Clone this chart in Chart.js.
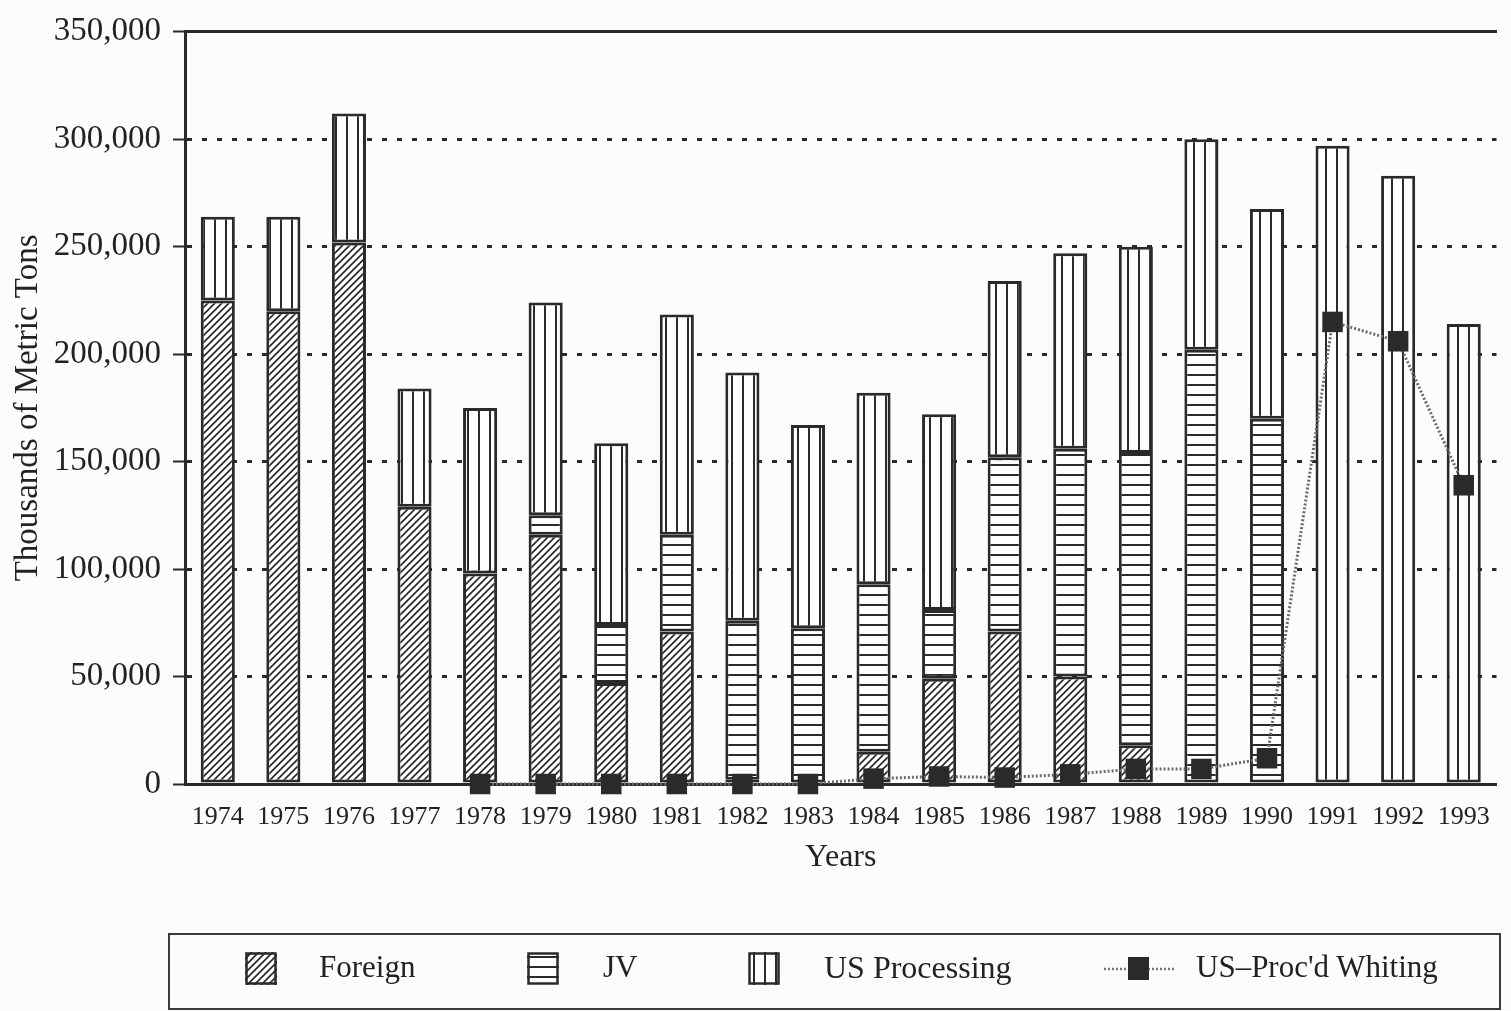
<!DOCTYPE html>
<html>
<head>
<meta charset="utf-8">
<title>Whiting catch 1974-1993</title>
<script src="https://cdn.jsdelivr.net/npm/chart.js@4.4.1/dist/chart.umd.min.js"></script>
<style>
  body { margin: 0; background: #fcfcfb; }
  #wrap { position: relative; width: 1511px; height: 1011px; }
  #legend {
    position: absolute; left: 168px; top: 933px; width: 1329px; height: 73px;
    border: 2px solid #3a3a3a; font-family: "Liberation Serif", serif;
    font-size: 31px; color: #222;
  }
  #legend canvas, #legend span { position: absolute; }
  #legend span { top: 14px; line-height: 36px; white-space: nowrap; }
</style>
</head>
<body>
<div id="wrap">
  <canvas id="catchChart" width="1511" height="1011"></canvas>
  <div id="legend">
    <canvas id="swForeign" width="32" height="33" style="left:75px;top:17px"></canvas>
    <span style="left:149px">Foreign</span>
    <canvas id="swJV" width="32" height="33" style="left:357px;top:17px"></canvas>
    <span style="left:433px">JV</span>
    <canvas id="swUS" width="32" height="33" style="left:578px;top:17px"></canvas>
    <span style="left:654px;font-size:32px">US Processing</span>
    <canvas id="swWhiting" width="72" height="33" style="left:934px;top:17px"></canvas>
    <span style="left:1026px">US–Proc'd Whiting</span>
  </div>
</div>
<script>
// ✅ Data (thousands of metric tons)
const years = ["1974", "1975", "1976", "1977", "1978", "1979", "1980", "1981", "1982", "1983",
  "1984", "1985", "1986", "1987", "1988", "1989", "1990", "1991", "1992", "1993"];
const foreign = [225000, 220000, 252000, 129000, 98000, 116000, 47000, 71000, 2000, null,
  15000, 49000, 71000, 50000, 18000, null, null, null, null, null];
const jv = [null, null, null, null, null, 9000, 27000, 45000, 74000, 72500,
  78000, 32000, 81000, 106000, 136000, 202000, 170000, null, null, null];
const usProcessing = [39000, 44000, 60000, 55000, 77000, 99000, 84500, 102500, 115500, 94500,
  89000, 91000, 82000, 91000, 96000, 98000, 97500, 297000, 283000, 214000];
const whiting = [null, null, null, null, 0, 0, 0, 0, 0, 0,
  2500, 3500, 3000, 4500, 7000, 7000, 12000, 215000, 206000, 139000];
const yMax = 350000;
const yStep = 50000;

const INK = "#2a2a2a";
const FONT = "'Liberation Serif', 'Times New Roman', serif";

// ✅ Hatch patterns for the bars
function makePattern(kind) {
  let c = document.createElement("canvas");
  let g = c.getContext("2d");
  if (kind === "diag") {
    c.width = 7; c.height = 7;
    g.fillStyle = "#fff"; g.fillRect(0, 0, 7, 7);
    g.strokeStyle = INK; g.lineWidth = 1.7;
    g.beginPath();
    g.moveTo(-1, 8); g.lineTo(8, -1);
    g.moveTo(-1, 1); g.lineTo(1, -1);
    g.moveTo(6, 8); g.lineTo(8, 6);
    g.stroke();
  } else if (kind === "horiz") {
    c.width = 4; c.height = 10.5;
    g.fillStyle = "#fff"; g.fillRect(0, 0, 4, 11);
    g.fillStyle = INK; g.fillRect(0, 4, 4, 2);
  } else {
    c.width = 11; c.height = 4;
    g.fillStyle = "#fff"; g.fillRect(0, 0, 11, 4);
    g.fillStyle = INK; g.fillRect(5, 0, 2, 4);
  }
  return g.createPattern(c, "repeat");
}

const diagFill = makePattern("diag");
const horizFill = makePattern("horiz");
const vertFill = makePattern("vert");

// ✅ Legend swatches
function drawSwatch(id, fill) {
  let g = document.getElementById(id).getContext("2d");
  g.fillStyle = fill;
  g.fillRect(0, 0, 32, 33);
  g.strokeStyle = INK; g.lineWidth = 2.5;
  g.strokeRect(1.5, 1.5, 29, 30);
}
drawSwatch("swForeign", diagFill);
drawSwatch("swJV", horizFill);
drawSwatch("swUS", vertFill);
(function () {
  let g = document.getElementById("swWhiting").getContext("2d");
  g.strokeStyle = "#777"; g.lineWidth = 2.5; g.setLineDash([2, 2]);
  g.beginPath(); g.moveTo(0, 17); g.lineTo(72, 17); g.stroke();
  g.fillStyle = INK; g.fillRect(24, 5, 21, 23);
})();

// ✅ Stacked bars + whiting line
let ctx = document.getElementById("catchChart").getContext("2d");

const barStyle = {
  type: "bar",
  borderColor: INK,
  borderWidth: 3,
  borderSkipped: false,
  categoryPercentage: 1,
  barPercentage: 0.52,
  order: 1,
};

new Chart(ctx, {
  data: {
    labels: years,
    datasets: [
      { ...barStyle, label: "Foreign", data: foreign, backgroundColor: diagFill },
      { ...barStyle, label: "JV", data: jv, backgroundColor: horizFill },
      { ...barStyle, label: "US Processing", data: usProcessing, backgroundColor: vertFill },
      {
        type: "line",
        label: "US–Proc'd Whiting",
        data: whiting,
        borderColor: "#6a6a6a",
        borderWidth: 3,
        borderDash: [2, 2],
        pointStyle: "rect",
        pointRadius: 14.5,
        pointBackgroundColor: INK,
        pointBorderColor: INK,
        pointBorderWidth: 0,
        tension: 0,
        clip: false,
        order: 0,
      },
    ],
  },
  options: {
    responsive: false,
    animation: false,
    layout: { padding: { top: 25, right: 3, bottom: 0, left: 0 } },
    plugins: { legend: { display: false }, tooltip: { enabled: false } },
    scales: {
      x: {
        stacked: true,
        grid: { display: false, drawTicks: false },
        border: { display: true, color: INK, width: 3 },
        ticks: { color: "#222", padding: 18, font: { family: FONT, size: 26 } },
        title: {
          display: true,
          text: "Years",
          color: "#222",
          font: { family: FONT, size: 32 },
          padding: { top: 0, bottom: 134 },
        },
        afterFit: (scale) => { scale.height = 227; },
      },
      xTop: {
        type: "category",
        position: "top",
        labels: years,
        grid: { display: false, drawTicks: false },
        ticks: { display: false },
        border: { display: true, color: INK, width: 3 },
        afterFit: (scale) => { scale.height = 0; },
      },
      y: {
        stacked: true,
        min: 0,
        max: yMax,
        ticks: {
          stepSize: yStep,
          color: "#222",
          padding: 12,
          font: { family: FONT, size: 33 },
          callback: (v) => v.toLocaleString("en-US"),
        },
        grid: {
          color: (c) => (c.tick && (c.tick.value === 0 || c.tick.value === yMax) ? "rgba(0,0,0,0)" : INK),
          lineWidth: 3,
          tickLength: 12,
          tickColor: INK,
          tickWidth: 2,
        },
        border: { display: true, color: INK, width: 3, dash: [5, 10] },
        title: {
          display: true,
          text: "Thousands of Metric Tons",
          color: "#222",
          font: { family: FONT, size: 33 },
          padding: { top: 9, bottom: 0 },
        },
        afterFit: (scale) => { scale.width = 185; },
      },
    },
  },
});
</script>
</body>
</html>
